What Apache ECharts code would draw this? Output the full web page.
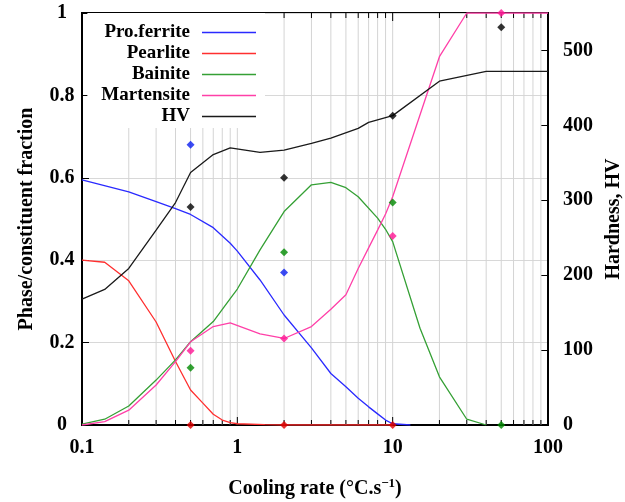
<!DOCTYPE html>
<html><head><meta charset="utf-8">
<script src="https://cdn.jsdelivr.net/npm/echarts@6/dist/echarts.min.js"></script>
<style>html,body{margin:0;padding:0;background:#fff}#c{width:625px;height:502px}</style>
</head><body><div id="c"></div>
<script>
// ---- data ----
const ferriteX = [0.1, 0.2, 0.3, 0.4, 0.5, 0.7, 0.9, 1, 1.4, 2, 3, 4, 5, 6, 7, 8, 9, 10, 13];
const ferriteY = [0.595, 0.566, 0.542, 0.525, 0.511, 0.479, 0.441, 0.422, 0.352, 0.267, 0.187, 0.125, 0.093, 0.065, 0.044, 0.027, 0.012, 0.003, 0];
const pearliteX = [0.1, 0.14, 0.2, 0.3, 0.4, 0.5, 0.6, 0.7, 0.8, 0.9, 1, 1.5, 2, 10];
const pearliteY = [0.40, 0.395, 0.35, 0.25, 0.154, 0.085, 0.053, 0.026, 0.012, 0.006, 0.003, 0.001, 0, 0];
const bainiteX = [0.1, 0.14, 0.2, 0.3, 0.4, 0.5, 0.7, 0.9, 1, 1.4, 2, 3, 4, 5, 6, 8, 9, 10, 15, 20, 30, 40];
const bainiteY = [0.002, 0.014, 0.046, 0.109, 0.158, 0.202, 0.251, 0.307, 0.33, 0.425, 0.518, 0.583, 0.589, 0.576, 0.554, 0.502, 0.475, 0.445, 0.235, 0.117, 0.014, 0];
const martensiteX = [0.1, 0.14, 0.2, 0.3, 0.4, 0.5, 0.7, 0.9, 1.4, 2, 3, 4, 5, 6, 7, 8, 9, 10, 20, 30, 100];
const martensiteY = [0, 0.008, 0.036, 0.097, 0.154, 0.202, 0.239, 0.248, 0.221, 0.21, 0.239, 0.281, 0.316, 0.38, 0.43, 0.473, 0.512, 0.554, 0.894, 1.0, 1.0];
const hvX = [0.1, 0.14, 0.2, 0.3, 0.4, 0.5, 0.7, 0.9, 1.4, 2, 3, 4, 6, 7, 10, 20, 40, 100];
const hvY = [168, 181, 209, 260, 297, 337, 361, 370, 364, 367, 376, 383, 396, 404, 413, 459, 472, 472];

// experimental points
const expFerrite = [[0.5, 0.68], [2, 0.37]];
const expPearlite = [[0.5, 0], [2, 0], [10, 0]];
const expBainite = [[0.5, 0.139], [2, 0.419], [10, 0.54], [50, 0]];
const expMartensite = [[0.5, 0.18], [2, 0.21], [10, 0.459], [50, 1.0]];
const expHV = [[0.5, 291], [2, 330], [10, 413], [50, 531]];

// tick / grid positions
const xMajorTicks = [1, 10];
const xMinorTicks = [0.2, 0.3, 0.4, 0.5, 0.6, 0.7, 0.8, 0.9, 2, 3, 4, 5, 6, 7, 8, 9, 20, 30, 40, 50, 60, 70, 80, 90];
const legendNames = ['Pro.ferrite', 'Pearlite', 'Bainite', 'Martensite', 'HV'];

// ---- chart ----
const FONT = 'Liberation Serif';
const zip = (xs, ys) => xs.map((x, i) => [x, ys[i]]);
const gridData = xMinorTicks.map(v => [v, 0]).concat(xMajorTicks.map(v => [v, 1]));

const chart = echarts.init(document.getElementById('c'), null, {renderer: 'canvas'});

function lineSeries(name, data, color, yIdx) {
  return {name, type: 'line', data, yAxisIndex: yIdx || 0, symbol: 'none', z: 3,
    lineStyle: {color, width: 1.3}, itemStyle: {color}, animation: false};
}
function expSeries(name, data, color, yIdx) {
  return {name, type: 'scatter', data, yAxisIndex: yIdx || 0, symbol: 'diamond', symbolSize: 8, z: 4,
    itemStyle: {color}, animation: false};
}

const option = {
  backgroundColor: '#fff',
  animation: false,
  grid: {left: 82, right: 77, top: 13, bottom: 77, outerBoundsMode: 'none', containLabel: false,
    show: true, borderColor: '#000', borderWidth: 2, backgroundColor: 'transparent'},
  legend: {
    data: legendNames, orient: 'vertical', align: 'right',
    right: 360, top: 13, padding: [9, 9, 1, 14],
    backgroundColor: '#fff', itemWidth: 54, itemHeight: 1.4, itemGap: 0, z: 6, icon: 'rect',
    textStyle: {fontFamily: FONT, fontWeight: 'bold', fontSize: 19, color: '#000', lineHeight: 21, padding: [0, 7, 0, 0]},
    selectedMode: false
  },
  xAxis: [{
    type: 'log', logBase: 10, min: 0.1, max: 100,
    axisLine: {lineStyle: {color: '#000', width: 2}},
    axisTick: {show: false}, splitLine: {show: false},
    axisLabel: {fontFamily: FONT, fontWeight: 'bold', fontSize: 20, color: '#000', margin: 13},
    name: 'Cooling rate (°C.s{sup|−1})', nameLocation: 'middle', nameGap: 52,
    nameTextStyle: {fontFamily: FONT, fontWeight: 'bold', fontSize: 20, color: '#000',
      rich: {sup: {fontFamily: FONT, fontWeight: 'bold', fontSize: 13, color: '#000', verticalAlign: 'top', padding: [0, 0, 10, 0]}}}
  }],
  yAxis: [{
    type: 'value', min: 0, max: 1, interval: 0.2, position: 'left',
    axisLine: {show: true, lineStyle: {color: '#000', width: 2}},
    axisTick: {show: true, inside: true, length: 7, lineStyle: {color: '#000'}},
    splitLine: {show: true, lineStyle: {color: '#d8d8d8', width: 1}},
    axisLabel: {fontFamily: FONT, fontWeight: 'bold', fontSize: 20, color: '#000', margin: 20, align: 'center'},
    name: 'Phase/constituent fraction', nameLocation: 'middle', nameGap: 45, nameRotate: 90,
    nameTextStyle: {fontFamily: FONT, fontWeight: 'bold', fontSize: 20, color: '#000'}
  }, {
    type: 'value', min: 0, max: 550, interval: 100, position: 'right',
    axisLine: {show: true, lineStyle: {color: '#000', width: 2}},
    axisTick: {show: true, inside: true, length: 7, lineStyle: {color: '#000'}},
    splitLine: {show: false},
    axisLabel: {fontFamily: FONT, fontWeight: 'bold', fontSize: 20, color: '#000', margin: 15, showMaxLabel: false},
    name: 'Hardness, HV', nameLocation: 'middle', nameGap: 52, nameRotate: 90,
    nameTextStyle: {fontFamily: FONT, fontWeight: 'bold', fontSize: 20, color: '#000'}
  }],
  series: [
    {
      name: 'grid', type: 'custom', data: gridData, z: 1, silent: true, clip: false,
      encode: {x: 0, y: 1},
      renderItem: function (params, api) {
        const v = api.value(0);
        const major = api.value(1);
        const b = api.coord([v, 0]);
        const t = api.coord([v, 1]);
        const tl = major ? 8 : 5;
        return {type: 'group', children: [
          {type: 'line', shape: {x1: b[0], y1: b[1], x2: t[0], y2: t[1]}, style: {stroke: '#d4d4d4', lineWidth: 1}},
          {type: 'line', shape: {x1: b[0], y1: b[1], x2: b[0], y2: b[1] - tl}, style: {stroke: '#000', lineWidth: 1}},
          {type: 'line', shape: {x1: t[0], y1: t[1], x2: t[0], y2: t[1] + tl}, style: {stroke: '#000', lineWidth: 1}}
        ]};
      }
    },
    lineSeries('Pro.ferrite', zip(ferriteX, ferriteY), '#2a2aff'),
    lineSeries('Pearlite', zip(pearliteX, pearliteY), '#ff2f2f'),
    lineSeries('Bainite', zip(bainiteX, bainiteY), '#35a035'),
    lineSeries('Martensite', zip(martensiteX, martensiteY), '#ff40a8'),
    lineSeries('HV', zip(hvX, hvY), '#1a1a1a', 1),
    expSeries('exp ferrite', expFerrite, '#0a1ef0'),
    expSeries('exp pearlite', expPearlite, '#e00000'),
    expSeries('exp bainite', expBainite, '#008a00'),
    expSeries('exp martensite', expMartensite, '#ff1493'),
    expSeries('exp HV', expHV, '#000000', 1)
  ]
};
chart.setOption(option);
</script>
</body></html>
